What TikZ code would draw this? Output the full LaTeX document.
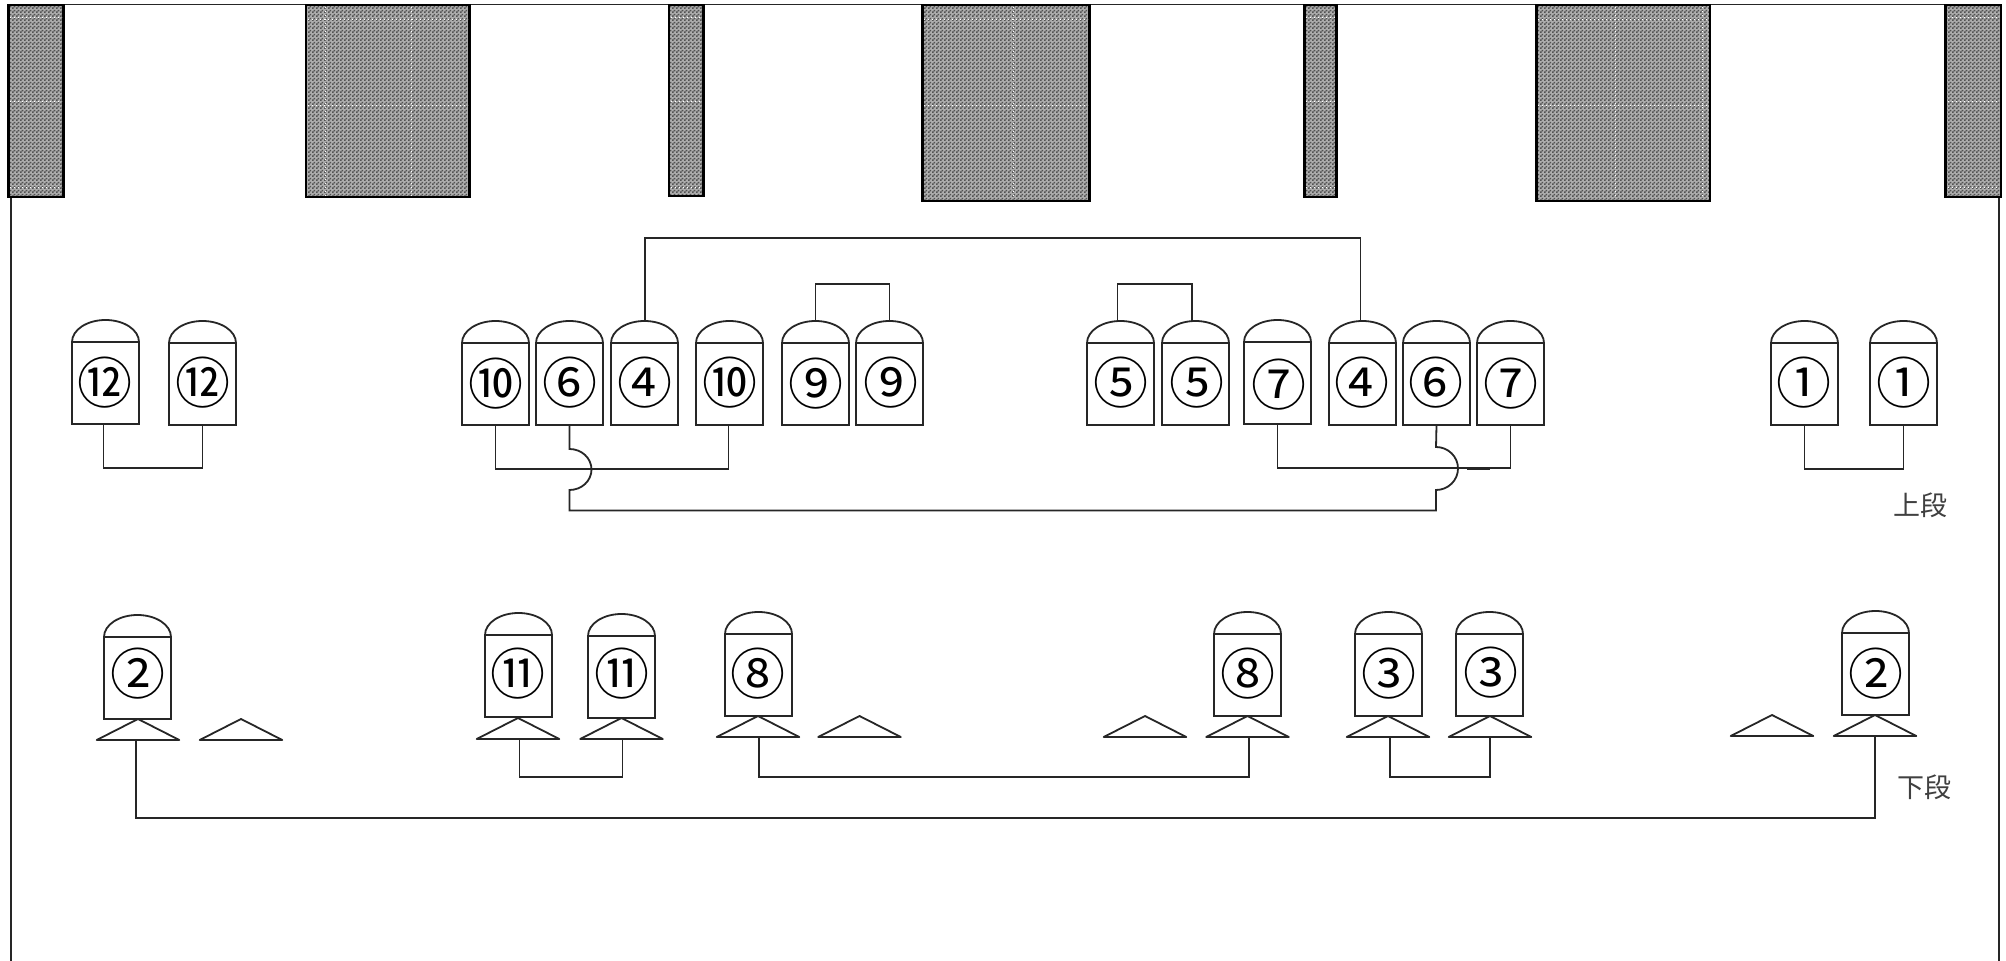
\documentclass[tikz,border=0pt]{standalone}
\usepackage{fontspec}
\setmainfont{Liberation Sans}
\newfontfamily\cjkfont{Noto Sans CJK JP}
\usetikzlibrary{patterns}
\pgfdeclarepatternformonly{chkpat}{\pgfqpoint{0pt}{0pt}}{\pgfqpoint{2pt}{2pt}}{\pgfqpoint{2pt}{2pt}}{%
  \pgfpathrectangle{\pgfqpoint{0pt}{0pt}}{\pgfqpoint{1pt}{1pt}}%
  \pgfpathrectangle{\pgfqpoint{1pt}{1pt}}{\pgfqpoint{1pt}{1pt}}%
  \pgfusepath{fill}}
\definecolor{chkdark}{gray}{0.32}
\definecolor{chklight}{gray}{0.68}
\tikzset{
  pipe/.style={line width=0.9pt,black!85,line join=miter},
  wall/.style={line width=0.8pt,black!85},
  pillar/.style={draw=black,line width=1.4pt,preaction={fill=chklight},pattern=chkpat,pattern color=chkdark},
  seam/.style={white,line width=0.4pt,dash pattern=on 0.4pt off 1.6pt},
  tankbody/.style={draw=black!85,line width=0.9pt,minimum width=33.5pt,minimum height=41pt,inner sep=0pt,outer sep=0pt,anchor=north west},
  tankdome/.style={draw=black!85,line width=0.9pt},
  tanklabel/.style={inner sep=0pt,font=\cjkfont\fontsize{27.5pt}{28pt}\selectfont,text=black},
  stand/.style={draw=black!85,line width=0.9pt,line join=round},
  tier/.style={inner sep=0pt,font=\cjkfont\fontsize{13.5pt}{14pt}\selectfont,text=black!75}
}
% name, left x, body top y, label x, label y, label
\newcommand{\tankat}[6]{%
  \node[tankbody] (#1) at (#2,#3) {};
  \draw[tankdome] (#1.north west) arc[start angle=180,end angle=0,x radius=16.75pt,y radius=11pt];
  \coordinate (#1-top) at ([yshift=11pt]#1.north);
  \node[tanklabel] (#1-l) at (#4,#5) {#6};
}
% name, apex x, apex y
\newcommand{\standat}[3]{%
  \coordinate (#1) at (#2,#3);
  \draw[stand] (#1) -- ++(-41.3,21) -- ++(82.6,0) -- cycle;
  \coordinate (#1-base) at ([yshift=-10.5pt]#1);
}
\begin{document}
\begin{tikzpicture}[x=0.5pt,y=-0.5pt]
\useasboundingbox (0,0) rectangle (2006,961);
\fill[white] (0,0) rectangle (2006,961);

% building outline
\coordinate (wallTL) at (8.5,4.5);
\coordinate (wallTR) at (2001,4.5);
\coordinate (wallL) at (11,197);
\coordinate (wallLB) at (11,961);
\coordinate (wallR) at (1999,197);
\coordinate (wallRB) at (1999,961);
\draw[wall] (wallTL) -- (wallTR);
\draw[wall] (wallL) -- (wallLB);
\draw[wall] (wallR) -- (wallRB);

% pillars
\draw[pillar] (8.5,5) rectangle (63.5,197);
\draw[pillar] (306,5) rectangle (469.3,197);
\draw[pillar] (669,5) rectangle (703.3,196);
\draw[pillar] (922.3,5) rectangle (1089.7,201);
\draw[pillar] (1304.7,5) rectangle (1336.7,197);
\draw[pillar] (1536.7,5) rectangle (1710,201);
\draw[pillar] (1945.7,5) rectangle (2001,197);
% pattern seams
\foreach \a/\b in {10/62,671/702,1306/1335,1948/1999}{
  \foreach \y in {17,101,187}{\draw[seam] (\a,\y) -- (\b,\y);}
}
\foreach \a/\b/\c in {308/468/199,924/1088/199,1538/1708/199}{
  \foreach \y in {19,105}{\draw[seam] (\a,\y) -- (\b,\y);}
}
\foreach \x in {325,411,1013,1615,1702}{\draw[seam] (\x,7) -- (\x,196);}

% upper tier
\tankat{a12}{72}{342}{105.3}{383}{⑫}
\tankat{b12}{169}{343}{202.7}{383}{⑫}
\tankat{a10}{462}{343}{496}{383.3}{⑩}
\tankat{a6}{536}{343}{570}{382.5}{⑥}
\tankat{a4}{611}{343}{644.7}{383}{④}
\tankat{b10}{696}{343}{730.3}{383}{⑩}
\tankat{a9}{782}{343}{816}{384}{⑨}
\tankat{b9}{856}{343}{891}{383}{⑨}
\tankat{a5}{1087}{343}{1121}{383}{⑤}
\tankat{b5}{1162}{343}{1196.7}{383}{⑤}
\tankat{a7}{1244}{342}{1279}{385}{⑦}
\tankat{b4}{1329}{343}{1361.7}{383}{④}
\tankat{b6}{1403}{343}{1436.3}{383}{⑥}
\tankat{b7}{1477}{343}{1511}{383.3}{⑦}
\tankat{a1}{1771}{343}{1804}{383}{①}
\tankat{b1}{1870}{343}{1904}{383}{①}

% lower tier
\tankat{a2}{104}{637}{137.7}{674}{②}
\tankat{a11}{485}{635}{518}{673.3}{⑪}
\tankat{b11}{588}{636}{622}{674}{⑪}
\tankat{a8}{725}{634}{758.3}{673.3}{⑧}
\tankat{b8}{1214}{634}{1248.3}{673.3}{⑧}
\tankat{a3}{1355}{634}{1388.7}{673.3}{③}
\tankat{b3}{1456}{634}{1491.3}{673}{③}
\tankat{b2}{1842}{633}{1876}{673.3}{②}

% stands
\standat{sa2}{138}{719}
\standat{sf1}{241}{719}
\standat{sa11}{518}{718}
\standat{sb11}{621.5}{718}
\standat{sa8}{758}{716}
\standat{sf2}{859.5}{716}
\standat{sf3}{1145}{716}
\standat{sb8}{1247.5}{716}
\standat{sa3}{1388}{716}
\standat{sb3}{1490}{716}
\standat{sf4}{1772}{715}
\standat{sb2}{1875}{715}

% upper connections
\draw[pipe] ([xshift=-1pt]a12.south) -- ++(0,44) -| (b12.south);
\draw[pipe] (a10.south) -- ++(0,44) -| ([xshift=-0.5pt]b10.south);
\draw[pipe] (a7.south) -- ++(0,44) -| (b7.south);
\draw[pipe] (a1.south) -- ++(0,44) -| (b1.south);
\draw[pipe] ([xshift=0.25pt]a4-top) -- ++(0,-83) -| ([xshift=-1pt]b4-top);
\draw[pipe] (a9-top) -- ++(0,-37) -| (b9-top);
\draw[pipe] ([xshift=-1.5pt]a5-top) -- ++(0,-37) -| ([xshift=-1.75pt]b5-top);
\draw[pipe] (a6.south) -- ++(0,24) arc[start angle=90,end angle=-90,x radius=11pt,y radius=10.25pt] -- ++(0,20.5) -- ++(866.5,0) -- ++(0,-20.5) arc[start angle=-90,end angle=90,x radius=11pt,y radius=10.75pt] -- (b6.south);
\draw[pipe,line width=1.2pt] (600,469) -- (624,469);
\draw[pipe,line width=1.2pt] (1467,469) -- (1490,469);

% lower connections
\draw[pipe] ([xshift=-1pt]sa2-base) -- ++(0,78) -| (sb2-base);
\draw[pipe] ([xshift=0.75pt]sa11-base) -- ++(0,38) -| ([xshift=0.5pt]sb11-base);
\draw[pipe] ([xshift=0.5pt]sa8-base) -- ++(0,40) -| ([xshift=0.75pt]sb8-base);
\draw[pipe] ([xshift=1pt]sa3-base) -- ++(0,40) -| (sb3-base);

% tier captions
\node[tier] (upperlabel) at (1920,505) {上段};
\node[tier] (lowerlabel) at (1924,787) {下段};
\end{tikzpicture}
\end{document}
